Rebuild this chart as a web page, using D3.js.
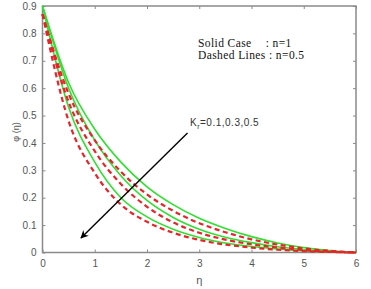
<!DOCTYPE html>
<html>
<head>
<meta charset="utf-8">
<script src="https://cdn.jsdelivr.net/npm/d3@7"></script>
<style>
  body { margin: 0; background: #fff; }
  svg { display: block; }
</style>
</head>
<body>
<svg id="chart" width="371" height="289"></svg>
<script>
// eta sample points and phi(eta) values
const eta = [0, 0.5, 1, 1.5, 2, 2.5, 3, 3.5, 4, 4.5, 5, 5.5, 6];

// solid lines, n = 1 (Kr = 0.1, 0.3, 0.5)
const solidKr01 = [0.9, 0.62, 0.45, 0.33, 0.24, 0.175, 0.125, 0.088, 0.058, 0.035, 0.018, 0.007, 0];
const solidKr03 = [0.9, 0.6, 0.41, 0.28, 0.19, 0.128, 0.085, 0.056, 0.036, 0.021, 0.011, 0.004, 0];
const solidKr05 = [0.9, 0.53, 0.33, 0.2, 0.13, 0.085, 0.055, 0.035, 0.022, 0.013, 0.006, 0.002, 0];

// dashed lines, n = 0.5
const dashKr01 = [0.87, 0.58, 0.41, 0.295, 0.212, 0.152, 0.107, 0.074, 0.048, 0.029, 0.015, 0.006, 0];
const dashKr03 = [0.87, 0.55, 0.37, 0.25, 0.167, 0.11, 0.072, 0.047, 0.03, 0.018, 0.009, 0.003, 0];
const dashKr05 = [0.87, 0.48, 0.29, 0.175, 0.112, 0.072, 0.046, 0.029, 0.018, 0.01, 0.005, 0.002, 0];

const xTicks = [0, 1, 2, 3, 4, 5, 6];
const yTicks = [0, 0.1, 0.2, 0.3, 0.4, 0.5, 0.6, 0.7, 0.8, 0.9];

const margin = { left: 42.5, right: 15, top: 6, bottom: 36.5 };
const width = 371, height = 289;

const svg = d3.select('#chart');

const x = d3.scaleLinear()
    .domain([0, 6])
    .range([margin.left, width - margin.right]);

const y = d3.scaleLinear()
    .domain([0, 0.9])
    .range([height - margin.bottom, margin.top]);

const axisColor = '#8a8a8a';
const labelColor = '#555';

// plot frame
svg.append('rect')
    .attr('x', x(0))
    .attr('y', y(0.9))
    .attr('width', x(6) - x(0))
    .attr('height', y(0) - y(0.9))
    .attr('fill', 'none')
    .attr('stroke', axisColor)
    .attr('stroke-width', 1.5);

// axes with inward ticks
const xAxis = d3.axisBottom(x).tickValues(xTicks).tickSize(-3).tickPadding(7).tickFormat(d3.format('d'));
const yAxis = d3.axisLeft(y).tickValues(yTicks).tickSize(-3).tickPadding(6)
    .tickFormat(d => d === 0 ? '0' : d3.format('.1f')(d));

svg.append('g')
    .attr('transform', `translate(0,${y(0)})`)
    .call(xAxis);
svg.append('g')
    .attr('transform', `translate(${x(0)},0)`)
    .call(yAxis);

// mirrored ticks on top and right
svg.append('g')
    .attr('transform', `translate(0,${y(0.9)})`)
    .call(d3.axisTop(x).tickValues(xTicks).tickSize(-3).tickFormat(''));
svg.append('g')
    .attr('transform', `translate(${x(6)},0)`)
    .call(d3.axisRight(y).tickValues(yTicks).tickSize(-3).tickFormat(''));

svg.selectAll('.domain').remove();
svg.selectAll('.tick line').attr('stroke', axisColor);
svg.selectAll('.tick text')
    .attr('fill', labelColor)
    .style('font-family', 'Arial, "Liberation Sans", sans-serif')
    .style('font-size', '10px');

// axis titles
svg.append('text')
    .attr('x', x(3))
    .attr('y', 284)
    .attr('text-anchor', 'middle')
    .attr('fill', labelColor)
    .style('font-family', 'Arial, "Liberation Sans", sans-serif')
    .style('font-size', '11px')
    .text('η');

svg.append('text')
    .attr('transform', `translate(19,${y(0.44)}) rotate(-90)`)
    .attr('text-anchor', 'middle')
    .attr('fill', labelColor)
    .style('font-family', 'Arial, "Liberation Sans", sans-serif')
    .style('font-size', '9px')
    .text('φ (η)');

// curves
const line = d3.line()
    .x((d, i) => x(eta[i]))
    .y(d => y(d))
    .curve(d3.curveMonotoneX);

const series = [
    { values: solidKr01, dashed: false },
    { values: solidKr03, dashed: false },
    { values: solidKr05, dashed: false },
    { values: dashKr01, dashed: true },
    { values: dashKr03, dashed: true },
    { values: dashKr05, dashed: true }
];

svg.append('g')
    .selectAll('path')
    .data(series)
    .join('path')
    .attr('d', d => line(d.values))
    .attr('fill', 'none')
    .attr('stroke', d => d.dashed ? '#e8232a' : '#2fe02f')
    .attr('stroke-width', d => d.dashed ? 2.2 : 1.6)
    .attr('stroke-dasharray', d => d.dashed ? '5,3.5' : null);

// legend text, colons lined up
const legend = svg.append('g')
    .style('font-family', '"Liberation Serif", "Times New Roman", serif')
    .style('font-size', '11.5px')
    .style('letter-spacing', '0.4px')
    .attr('fill', '#111');
const dashedLabel = legend.append('text').attr('x', 198).attr('y', 59).text('Dashed Lines ');
const colonX = 198 + dashedLabel.node().getComputedTextLength();
dashedLabel.append('tspan').text(': n=0.5');
legend.append('text').attr('x', 198).attr('y', 47).text('Solid Case');
legend.append('text').attr('x', colonX).attr('y', 47).text(': n=1');

// Kr annotation with arrow
const note = svg.append('text')
    .attr('x', 190)
    .attr('y', 126)
    .attr('fill', '#333')
    .style('font-family', 'Arial, "Liberation Sans", sans-serif')
    .style('font-size', '10px')
    .style('letter-spacing', '0.5px');
note.append('tspan').text('K');
note.append('tspan').attr('dy', 2.5).style('font-size', '7px').text('r');
note.append('tspan').attr('dy', -2.5).text('=0.1,0.3,0.5');

svg.append('defs').append('marker')
    .attr('id', 'arrow')
    .attr('viewBox', '0 0 10 10')
    .attr('refX', 9)
    .attr('refY', 5)
    .attr('markerWidth', 8)
    .attr('markerHeight', 8)
    .attr('markerUnits', 'userSpaceOnUse')
    .attr('orient', 'auto')
    .append('path')
    .attr('d', 'M0,0 L10,5 L0,10 L3,5 Z')
    .attr('fill', '#000');

svg.append('line')
    .attr('x1', 187.5)
    .attr('y1', 133)
    .attr('x2', 81)
    .attr('y2', 238)
    .attr('stroke', '#000')
    .attr('stroke-width', 1.4)
    .attr('marker-end', 'url(#arrow)');
</script>
</body>
</html>
